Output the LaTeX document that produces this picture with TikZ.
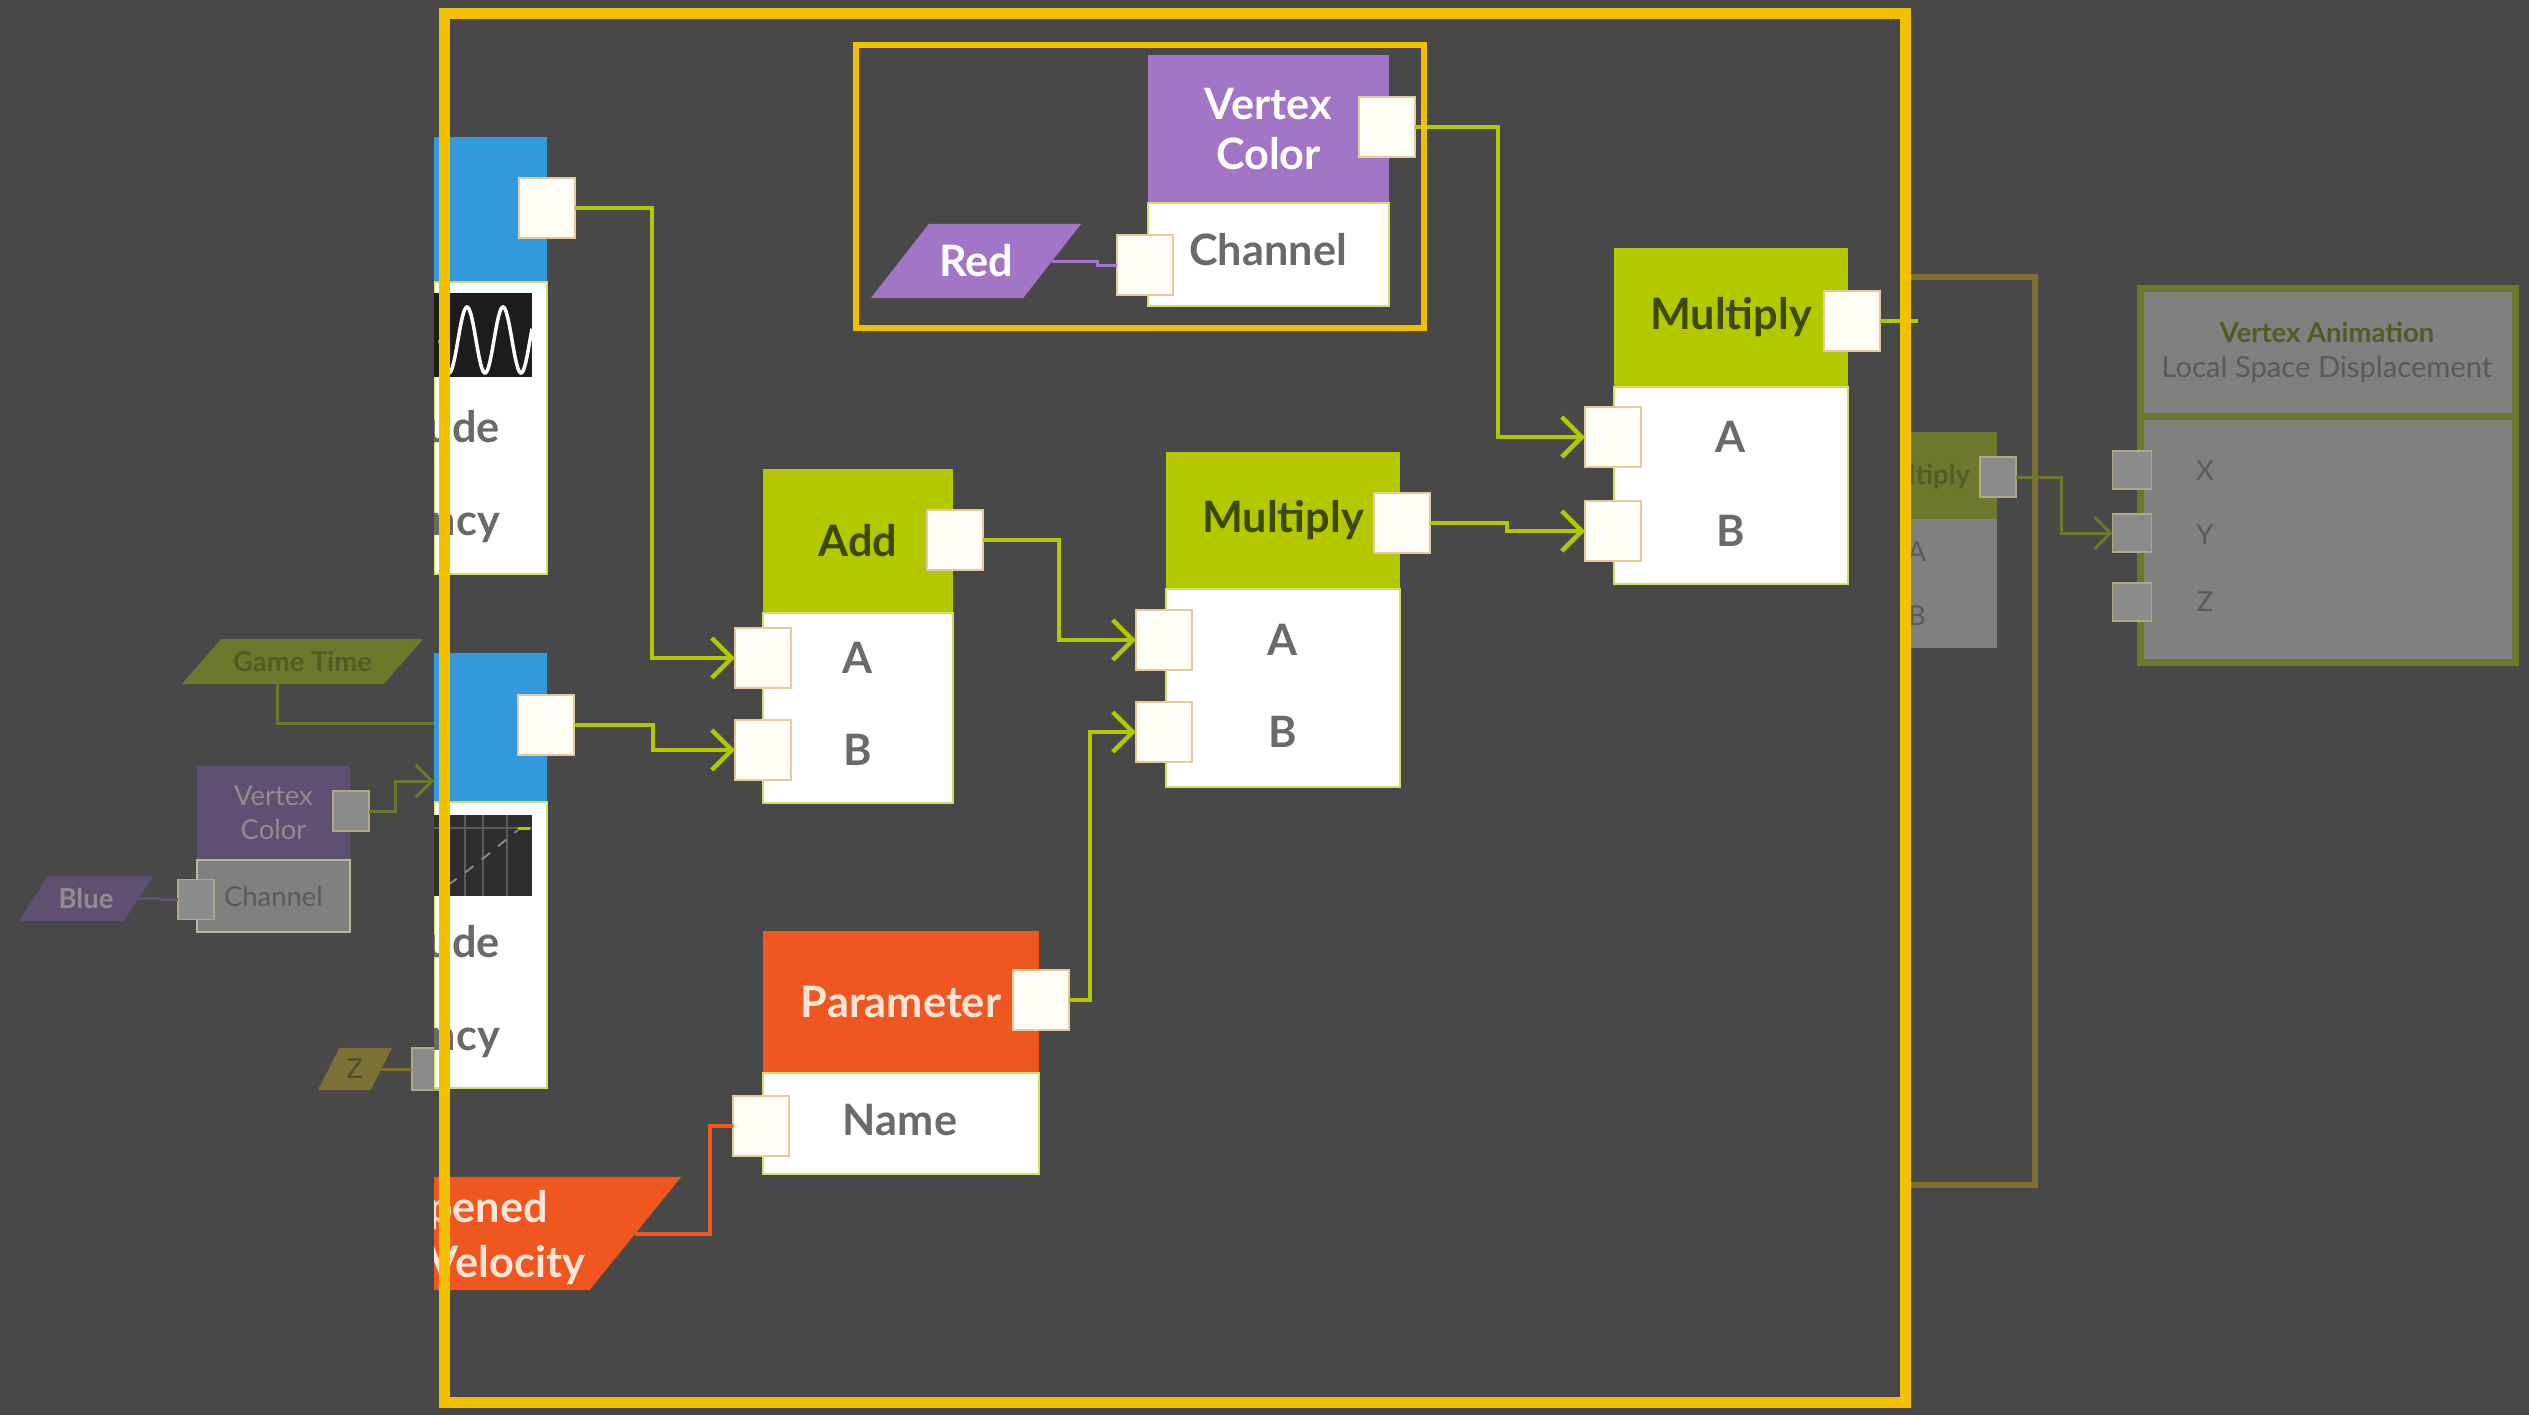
\documentclass[tikz,border=0pt]{standalone}
\usepackage{fontspec}
\setmainfont{Lato}
\usetikzlibrary{positioning,shapes.geometric,arrows.meta}

\definecolor{bgGray}{HTML}{484848}
\definecolor{frameGold}{HTML}{F2C200}
\definecolor{mathLime}{HTML}{B4C800}
\definecolor{mathText}{HTML}{3D4A06}
\definecolor{vcPurple}{HTML}{A375C6}
\definecolor{parOrange}{HTML}{F0561F}
\definecolor{genBlue}{HTML}{3399DD}
\definecolor{portFill}{HTML}{FFFDF6}
\definecolor{portEdge}{HTML}{E3CBA0}
\definecolor{slotText}{HTML}{6A6A6A}
\definecolor{peach}{HTML}{FFE6D8}
\definecolor{graphBlack}{HTML}{1C1C1C}
\definecolor{graphGray}{HTML}{2E2E2E}
\definecolor{gridLine}{HTML}{5C5C5C}
\definecolor{curveLine}{HTML}{8C8C8C}
\definecolor{dimLime}{HTML}{6E782C}
\definecolor{dimLimeText}{HTML}{525B24}
\definecolor{dimPurple}{HTML}{5F5072}
\definecolor{dimBody}{HTML}{808080}
\definecolor{dimPort}{HTML}{8A8A8A}
\definecolor{dimText}{HTML}{595959}
\definecolor{dimLight}{HTML}{8E8E8E}
\definecolor{dimGold}{HTML}{7E7030}
\definecolor{dimZ}{HTML}{7C7236}
\definecolor{dimZText}{HTML}{4E4A2C}

\begin{document}
\begin{tikzpicture}[
    x=0.01cm, y=-0.01cm,
    node distance=0pt,
    every node/.style={inner sep=0pt, outer sep=0pt, font=\fontsize{12.3}{14.2}\selectfont\bfseries},
    hdr/.style={rectangle, align=center},
    bodybox/.style={rectangle, fill=white, draw=mathLime!60, line width=0.02cm},
    port/.style={rectangle, fill=portFill, draw=portEdge, line width=0.02cm, minimum width=0.56cm, minimum height=0.6cm},
    slot/.style={text=slotText},
    param/.style={trapezium, trapezium stretches body=true},
    wire/.style={draw=mathLime, line width=0.045cm, -{Straight Barb[length=0.2cm, width=0.4cm]}},
    stub/.style={draw=mathLime, line width=0.045cm},
    dimfont/.style={font=\fontsize{7.8}{9.7}\selectfont},
    dimbold/.style={font=\fontsize{7.8}{9.7}\selectfont\bfseries},
    dimport/.style={rectangle, fill=dimPort, draw=dimGold!60, line width=0.015cm, minimum width=0.36cm, minimum height=0.4cm},
    dimwire/.style={draw=dimLime, line width=0.03cm},
    dimarrow/.style={dimwire, -{Straight Barb[length=0.16cm, width=0.32cm]}}
]

\useasboundingbox (0,0) rectangle (2529,1415);
\fill[bgGray] (0,0) rectangle (2529,1415);

% Faded graph (left of frame)
\node[param, trapezium left angle=49, trapezium right angle=131, minimum width=2.41cm, text height=0.324cm, text depth=0.126cm, fill=dimLime, text=dimLimeText, dimbold] (game-time) at (302.5,661.5) {Game Time};
\node[hdr, fill=dimPurple, text=dimLight, dimfont, minimum width=1.53cm, minimum height=0.94cm] (dim-vc-head) at (273.5,813) {Vertex\\Color};
\node[bodybox, fill=dimBody, draw=dimLime!50, text=dimText, dimfont, minimum width=1.53cm, minimum height=0.72cm, below=of dim-vc-head] (dim-vc-body) {Channel};
\node[dimport] (dim-vc-out) at (351,811) {};
\node[dimport] (dim-vc-chan) at (196,899.5) {};
\node[param, trapezium left angle=57, trapezium right angle=123, minimum width=1.34cm, text height=0.324cm, text depth=0.126cm, fill=dimPurple, text=dimLight, dimbold] (blue) at (86,898.5) {Blue};
\node[param, trapezium left angle=63, trapezium right angle=117, minimum width=0.74cm, text height=0.309cm, text depth=0.111cm, fill=dimZ, text=dimZText, dimfont] (z-const) at (355,1069) {Z};
\node[dimport, minimum height=0.42cm] (dim-z-in) at (430,1069) {};
\coordinate (gt-end) at (434,723);
\coordinate (vc-end) at (434,781);

\draw[dimwire] ([xshift=-0.255cm]game-time.south) |- (gt-end);
\draw[dimarrow] (dim-vc-out.east) -- ++(26,0) |- (vc-end);
\draw[dimPurple, line width=0.03cm] (blue.east) -- ++(22,0) |- (dim-vc-chan.west);
\draw[dimGold, line width=0.03cm] (z-const.east) -- ++(12,0) |- (dim-z-in.west);

% Faded graph (right of frame)
\draw[dimGold, line width=0.06cm] (1911,277) -- (2035,277) -- (2035,1185) -- (1911,1185);
\begin{scope}
\clip (1911,0) rectangle (2529,1415);
\node[hdr, fill=dimLime, minimum width=1.5cm, minimum height=0.87cm, anchor=north east] (dim-mult-head) at (1997,432) {};
\node[rectangle, fill=dimBody, minimum width=1.5cm, minimum height=1.29cm, below=of dim-mult-head] (dim-mult-body) {};
\node[anchor=east, text=dimLimeText, dimbold] (dim-mult-title) at (1970,477) {Multiply};
\node[text=dimText, dimfont] (dim-mult-a) at (1917,552) {A};
\node[text=dimText, dimfont] (dim-mult-b) at (1917,616) {B};
\end{scope}
\node[dimport] (dim-mult-out) at (1998,477) {};

\node[rectangle, fill=dimBody, draw=dimLime, line width=0.07cm, minimum width=3.75cm, minimum height=1.275cm, anchor=north west] (va-head) at (2140.5,288.5) {};
\node[rectangle, fill=dimBody, draw=dimLime, line width=0.07cm, minimum width=3.75cm, minimum height=2.465cm, below=of va-head] (va-body) {};
\node[text=dimLimeText, dimbold] (va-title) at (2327,332) {Vertex Animation};
\node[text=dimText, font=\fontsize{8.3}{10}\selectfont] (va-sub) at (2327,369) {Local Space Displacement};
\node[dimport, minimum width=0.39cm, minimum height=0.38cm] (va-x) at (2132,470) {};
\node[dimport, minimum width=0.39cm, minimum height=0.38cm] (va-y) at (2132,533) {};
\node[dimport, minimum width=0.39cm, minimum height=0.38cm] (va-z) at (2132,602) {};
\node[text=dimText, dimfont] (va-x-text) at (2205,471) {X};
\node[text=dimText, dimfont] (va-y-text) at (2205,535) {Y};
\node[text=dimText, dimfont] (va-z-text) at (2205,602) {Z};
\draw[dimarrow] (dim-mult-out.east) -- ++(45,0) |- (va-y.west);

% Highlighted graph (inside frame)
\begin{scope}
\clip (434,0) rectangle (1911,1415);

% Sine generator (top left)
\node[hdr, fill=genBlue, minimum width=1.13cm, minimum height=1.45cm] (sine-head) at (490.5,209.5) {};
\node[bodybox, minimum width=1.13cm, minimum height=2.92cm, below=of sine-head] (sine-body) {};
\node[fill=graphBlack, minimum width=0.98cm, minimum height=0.84cm, anchor=north west] (sine-graph) at (434,293) {};
\begin{scope}
\clip (434,293) rectangle (532,377);
\draw[white, line width=0.035cm] plot[domain=440:532, samples=90, smooth] (\x, {340 - 33*cos((\x-467)*10)});
\end{scope}
\node[slot, anchor=east] (sine-amp) at (500,427) {ude};
\node[slot, anchor=east] (sine-freq) at (500,528) {ncy};
\node[port] (sine-out) at (547,208) {};

% Curve generator (bottom left)
\node[hdr, fill=genBlue, minimum width=1.13cm, minimum height=1.49cm] (curve-head) at (490.5,727.5) {};
\node[bodybox, minimum width=1.13cm, minimum height=2.86cm, below=of curve-head] (curve-body) {};
\node[fill=graphGray, minimum width=0.98cm, minimum height=0.81cm, anchor=north west] (curve-graph) at (434,815) {};
\foreach \gx in {465,483,507}
    \draw[gridLine, line width=0.012cm] (\gx,815) -- (\gx,896);
\draw[gridLine, line width=0.012cm] (434,828) -- (532,828);
\draw[curveLine, dashed, line width=0.018cm] (448,885) .. controls (475,866) and (498,846) .. (518,830);
\draw[mathLime, line width=0.03cm] (518,828) -- (530,828);
\node[slot, anchor=east] (curve-amp) at (500,942) {ude};
\node[slot, anchor=east] (curve-freq) at (500,1043) {ncy};
\node[port] (curve-out) at (546,725) {};

% Velocity parameter (bottom left)
\node[param, trapezium left angle=51, trapezium right angle=129, minimum width=4cm, text height=0.565cm, text depth=0.565cm, fill=parOrange] (vel) at (481,1233.5) {\phantom{V}};
\node[anchor=east, text=peach] (vel-top) at (548,1210) {pened};
\node[anchor=east, text=peach] (vel-bot) at (585,1265) {Velocity};
\end{scope}

% Add
\node[hdr, fill=mathLime, text=mathText, minimum width=1.9cm, minimum height=1.44cm] (add-head) at (858,541) {Add};
\node[bodybox, minimum width=1.9cm, minimum height=1.9cm, below=of add-head] (add-body) {};
\node[port] (add-out) at (955,540) {};
\node[port] (add-a) at (763,658) {};
\node[port] (add-b) at (763,750) {};
\node[slot] (add-a-text) at (add-body.center |- add-a) {A};
\node[slot] (add-b-text) at (add-body.center |- add-b) {B};

% Parameter
\node[hdr, fill=parOrange, text=peach, minimum width=2.76cm, minimum height=1.42cm] (par-head) at (901,1002) {Parameter};
\node[bodybox, minimum width=2.76cm, minimum height=1.01cm, below=of par-head] (par-body) {};
\node[slot] (par-name-text) at (900,1120) {Name};
\node[port] (par-out) at (1041,1000) {};
\node[port] (par-name) at (761,1126) {};

% Vertex color (small frame)
\node[param, trapezium left angle=52, trapezium right angle=128, minimum width=2.1cm, text height=0.526cm, text depth=0.214cm, fill=vcPurple, text=white] (red) at (976,261) {Red};
\node[hdr, fill=vcPurple, text=white, minimum width=2.41cm, minimum height=1.48cm] (vc-head) at (1268.5,129) {Vertex\\Color};
\node[bodybox, minimum width=2.41cm, minimum height=1.03cm, below=of vc-head] (vc-body) {};
\node[slot] (vc-chan-text) at (1268,250) {Channel};
\node[port] (vc-out) at (1387,127) {};
\node[port] (vc-chan) at (1145,265) {};

% Multiply (middle)
\node[hdr, fill=mathLime, text=mathText, minimum width=2.34cm, minimum height=1.37cm] (m1-head) at (1283,520.5) {Multiply};
\node[bodybox, minimum width=2.34cm, minimum height=1.98cm, below=of m1-head] (m1-body) {};
\node[port] (m1-out) at (1402,523) {};
\node[port] (m1-a) at (1164,640) {};
\node[port] (m1-b) at (1164,732) {};
\node[slot] (m1-a-text) at (m1-body.center |- m1-a) {A};
\node[slot] (m1-b-text) at (m1-body.center |- m1-b) {B};

% Multiply (right)
\node[hdr, fill=mathLime, text=mathText, minimum width=2.34cm, minimum height=1.39cm] (m2-head) at (1731,317.5) {Multiply};
\node[bodybox, minimum width=2.34cm, minimum height=1.97cm, below=of m2-head] (m2-body) {};
\node[port] (m2-out) at (1852,321) {};
\node[port] (m2-a) at (1613,437) {};
\node[port] (m2-b) at (1613,531) {};
\node[slot] (m2-a-text) at (m2-body.center |- m2-a) {A};
\node[slot] (m2-b-text) at (m2-body.center |- m2-b) {B};
\coordinate (m2-exit) at (1918,321);

% Connections
\draw[wire] (sine-out.east) -- ++(77,0) |- (add-a.west);
\draw[wire] (curve-out.east) -- ++(79,0) |- (add-b.west);
\draw[wire] (add-out.east) -- ++(76,0) |- (m1-a.west);
\draw[wire] (par-out.east) -- ++(21,0) |- (m1-b.west);
\draw[wire] (m1-out.east) -- ++(77,0) |- (m2-b.west);
\draw[wire] (vc-out.east) -- ++(83,0) |- (m2-a.west);
\draw[stub] (m2-out.east) -- (m2-exit);
\draw[vcPurple, line width=0.03cm] (red.east) -- ++(45,0) |- (vc-chan.west);
\draw[parOrange, line width=0.04cm] (vel.east) -- ++(75,0) |- (par-name.west);

% Highlight frames
\draw[frameGold, line width=0.11cm] (444.5,13.5) rectangle (1905.5,1402.5);
\draw[frameGold, line width=0.065cm] (856,45) rectangle (1424,328);

\end{tikzpicture}
\end{document}
